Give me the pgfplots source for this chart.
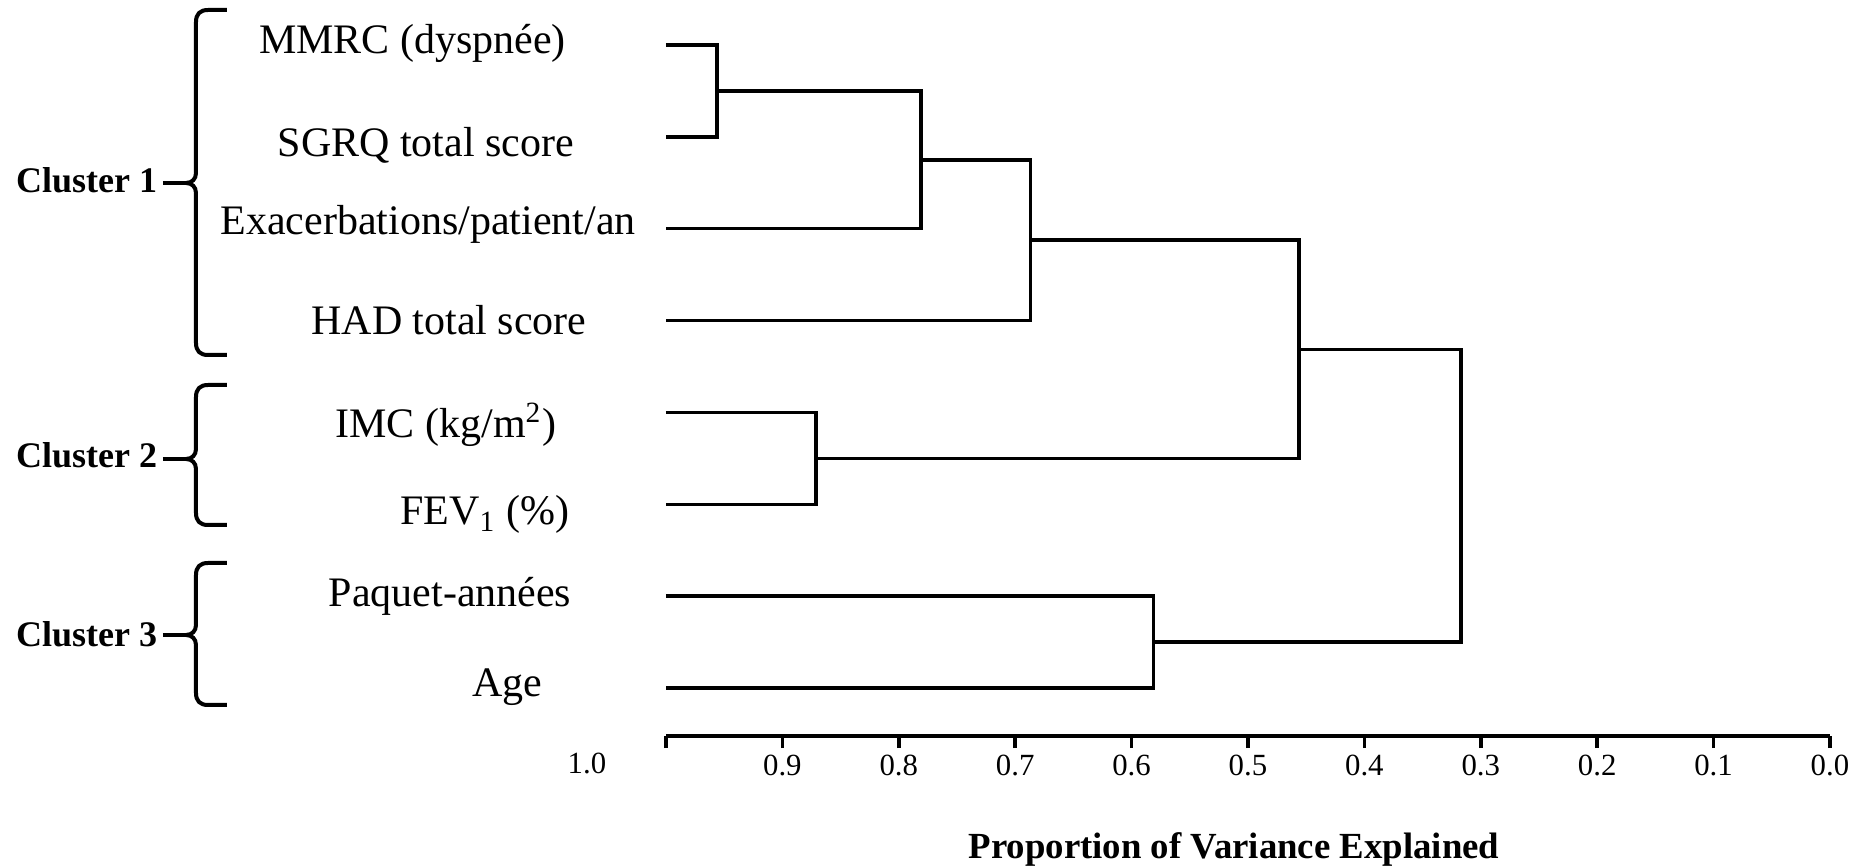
\documentclass[border=0pt]{standalone}
\usepackage{fontspec}
\setmainfont{Liberation Serif}
\usepackage{pgfplots}
\pgfplotsset{compat=1.18}
\newcommand{\clbrace}[3]{%
  \draw[line width=1pt] (227,#1) -- (208,#1) .. controls (200,#1) and (196,#1+4) .. (196,#1+12)
    -- (196,#2-10) .. controls (196,#2-4) and (192,#2) .. (186,#2)
    .. controls (192,#2) and (196,#2+4) .. (196,#2+10)
    -- (196,#3-12) .. controls (196,#3-4) and (200,#3) .. (208,#3) -- (227,#3);
  \draw[line width=1pt] (163,#2) -- (188,#2);
}
\begin{document}
\begin{tikzpicture}
\begin{axis}[
  scale only axis, width=291pt, height=184pt,
  x dir=reverse, xmin=0, xmax=1,
  ymin=-0.5226, ymax=7.4899,
  axis x line*=bottom, axis y line=none,
  x axis line style={line width=0.95pt,-},
  xtick={0,0.1,0.2,0.3,0.4,0.5,0.6,0.7,0.8,0.9,1},
  xticklabels={0.0,0.1,0.2,0.3,0.4,0.5,0.6,0.7,0.8,0.9,{}},
  xtick align=outside, major tick length=3pt,
  every tick/.style={line width=0.9pt, black},
  xticklabel style={font=\fontsize{7.7}{9}\selectfont, anchor=base, yshift=-6.75pt, inner sep=0pt},
  xlabel={Proportion of Variance Explained},
  xlabel style={at={(axis cs:0.512,-0.5226)}, anchor=base, yshift=-30.5pt, inner sep=0pt,
    font=\fontsize{9.2}{11}\selectfont\bfseries},
  clip=false,
]
\addplot[black, line width=0.85pt, no marks] coordinates {(1,7) (0.956,7) (0.956,6) (1,6)};
\addplot[black, line width=0.85pt, no marks] coordinates {(0.956,6.5) (0.781,6.5) (0.781,5) (1,5)};
\addplot[black, line width=0.85pt, no marks] coordinates {(0.781,5.75) (0.687,5.75) (0.687,4) (1,4)};
\addplot[black, line width=0.85pt, no marks] coordinates {(1,3) (0.871,3) (0.871,2) (1,2)};
\addplot[black, line width=0.85pt, no marks] coordinates {(0.687,4.875) (0.456,4.875) (0.456,2.5) (0.871,2.5)};
\addplot[black, line width=0.85pt, no marks] coordinates {(1,1) (0.581,1) (0.581,0) (1,0)};
\addplot[black, line width=0.85pt, no marks] coordinates {(0.456,3.6875) (0.317,3.6875) (0.317,0.5) (0.581,0.5)};
\coordinate (O) at (axis cs:1.57216,7.4899);
\end{axis}
\begin{scope}[shift={(O)}, x=0.25pt, y=-0.25pt]
  \path (0,0) rectangle (1866,867);
  \begin{scope}[every node/.style={inner sep=0pt, anchor=base, font=\fontsize{10.5}{12}\selectfont}]
    \node at (412.5,54) {MMRC (dyspnée)};
    \node at (426,157) {SGRQ total score};
    \node at (428,235) {Exacerbations/patient/an};
    \node at (449,335) {HAD total score};
    \node at (446,438) {IMC (kg/m\textsuperscript{2})};
    \node at (485,525) {FEV\textsubscript{1} (\%)};
    \node at (450,607) {Paquet-années};
    \node at (507,697) {Age};
  \end{scope}
  \begin{scope}[every node/.style={inner sep=0pt, anchor=base east, font=\fontsize{9}{11}\selectfont\bfseries}]
    \node at (158,193) {Cluster 1};
    \node at (158,468) {Cluster 2};
    \node at (158,647) {Cluster 3};
  \end{scope}
  \clbrace{10}{183}{355}
  \clbrace{385}{459}{525}
  \clbrace{563}{635}{705}
  \node[inner sep=0pt, anchor=base, font=\fontsize{7.7}{9}\selectfont] at (587,774) {1.0};
\end{scope}
\end{tikzpicture}
\end{document}
